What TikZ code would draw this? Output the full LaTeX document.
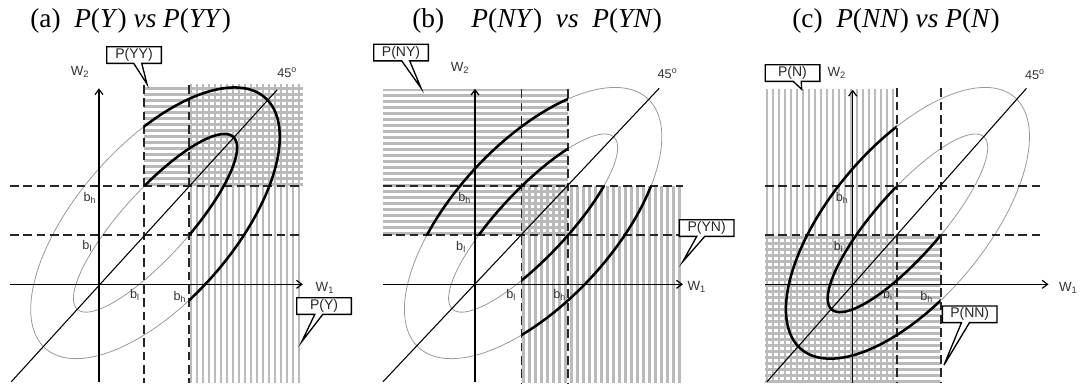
\documentclass[tikz,border=0pt]{standalone}
\usepackage{fontspec}
\setmainfont{Liberation Serif}
\newfontfamily\labfont{Liberation Sans}
\usetikzlibrary{arrows.meta,shapes.callouts}

\tikzset{
  hatchln/.style={line width=2pt, black!27},
  ellgray/.style={line width=0.6pt, black!40},
  thickc/.style={line width=1.9pt, black},
  dashln/.style={line width=1.4pt, black!85, dash pattern=on 6.5pt off 3.5pt},
  axisln/.style={line width=0.9pt, black, -{Straight Barb[length=4pt,width=6pt]}},
  diagln/.style={line width=0.8pt, black},
  lab/.style={font=\labfont\fontsize{10}{11}\selectfont, text=black!80, inner sep=0pt},
  labs/.style={font=\labfont\fontsize{9.5}{10}\selectfont, text=black!80, inner sep=0pt},
  ttl/.style={font=\fontsize{20.5}{24}\selectfont, anchor=base west, inner sep=0pt},
  callbox/.style={rectangle callout, draw, line width=1pt, fill=white,
     minimum width=41pt, minimum height=12.5pt, inner sep=0pt,
     callout pointer width=6pt, font=\labfont\fontsize{10.5}{11}\selectfont, text=black!85}
}

\newcommand{\ellD}[3]{\draw[#1] plot[smooth, domain=0:360, samples=145, variable=\t]
  ({1.25+(#2*cos(\t)-#3*sin(\t))/sqrt(2)},{1.25+(#2*cos(\t)+#3*sin(\t))/sqrt(2)});}
\newcommand{\vhatch}[4]{\begin{scope}\clip (#1,#2) rectangle (#3,#4);
  \foreach \k in {0,...,56}{\draw[hatchln] (#1,#2) ++({\k*4.5pt+1.5pt},0pt) -- ++(0,8);}\end{scope}}
\newcommand{\hhatch}[4]{\begin{scope}\clip (#1,#2) rectangle (#3,#4);
  \foreach \k in {0,...,56}{\draw[hatchln] (#1,#2) ++(0pt,{\k*4.5pt+1.5pt}) -- ++(8,0);}\end{scope}}

\begin{document}
\begin{tikzpicture}[x=0.75pt,y=-0.75pt]
\useasboundingbox (0,0) rectangle (1088,390);

% titles
\node[ttl] (ta) at (30,27) {(a)\enspace\textit{P}(\textit{Y}) \textit{vs} \textit{P}(\textit{YY})};
\node[ttl] (tb) at (412,27) {(b)\quad\textit{P}(\textit{NY})\ \ \textit{vs}\ \ \textit{P}(\textit{YN})};
\node[ttl] (tc) at (792,27) {(c)\enspace\textit{P}(\textit{NN}) \textit{vs} \textit{P}(\textit{N})};

% ---------------- panel (a)
\begin{scope}[shift={(99,284.3)},x=33.75pt,y=36.75pt]
  \hhatch{1}{2}{4.53}{4.07}
  \vhatch{2}{-2.01}{4.53}{4.07}
  \ellD{ellgray}{3.54}{1.67}
  \ellD{ellgray}{2.47}{0.714}
  \draw[dashln] (1,4.07) -- (1,-2.01);
  \draw[dashln] (2,4.07) -- (2,-2.01);
  \draw[dashln] (-1.98,1) -- (4.53,1);
  \draw[dashln] (-1.98,2) -- (4.53,2);
  \draw[diagln] (-1.95,-1.99) -- (3.96,3.97);
  \draw[axisln] (-1.98,0) -- (4.53,0);
  \draw[axisln] (0,-1.99) -- (0,4.0);
  \begin{scope}\clip (1,1) rectangle (6,6) (2,-3) rectangle (6,6); \ellD{thickc}{3.54}{1.67}\end{scope}
  \begin{scope}\clip (1,2) rectangle (6,6) (2,1) rectangle (6,6); \ellD{thickc}{2.47}{0.714}\end{scope}
  \node[lab] (w2a) at (-0.42,4.33) {W\textsubscript{2}};
  \node[lab] (w1a) at (5.02,-0.08) {W\textsubscript{1}};
  \node[labs] (dga) at (4.18,4.31) {45\textsuperscript{o}};
  \node[labs] (bha) at (-0.2,1.76) {b\textsubscript{h}};
  \node[labs] (bla) at (-0.26,0.78) {b\textsubscript{l}};
  \node[labs] (blxa) at (0.8,-0.22) {b\textsubscript{l}};
  \node[labs] (bhxa) at (1.8,-0.25) {b\textsubscript{h}};
\end{scope}

% ---------------- panel (b)
\begin{scope}[shift={(475,284.3)},x=34.875pt,y=36.75pt]
  \hhatch{-1.98}{1}{2}{3.98}
  \vhatch{1}{-2.02}{4.48}{2}
  \ellD{ellgray}{3.54}{1.67}
  \ellD{ellgray}{2.47}{0.714}
  \draw[dashln] (1,3.98) -- (1,-2.02);
  \draw[dashln] (2,3.98) -- (2,-2.02);
  \draw[dashln] (-1.98,1) -- (4.48,1);
  \draw[dashln] (-1.98,2) -- (4.48,2);
  \draw[diagln] (-1.98,-1.99) -- (3.96,4.0);
  \draw[axisln] (-1.98,0) -- (4.47,0);
  \draw[axisln] (0,-2.0) -- (0,3.99);
  \begin{scope}\clip (-3,1) rectangle (2,6) (1,-3) rectangle (6,2); \ellD{thickc}{3.54}{1.67}\ellD{thickc}{2.47}{0.714}\end{scope}
  \node[lab] (w2b) at (-0.32,4.42) {W\textsubscript{2}};
  \node[lab] (w1b) at (4.77,-0.06) {W\textsubscript{1}};
  \node[labs] (dgb) at (4.14,4.3) {45\textsuperscript{o}};
  \node[labs] (bhb) at (-0.22,1.76) {b\textsubscript{h}};
  \node[labs] (blb) at (-0.3,0.77) {b\textsubscript{l}};
  \node[labs] (blxb) at (0.78,-0.22) {b\textsubscript{l}};
  \node[labs] (bhxb) at (1.82,-0.22) {b\textsubscript{h}};
\end{scope}

% ---------------- panel (c)
\begin{scope}[shift={(852.7,284.3)},x=33pt,y=36.75pt]
  \vhatch{-1.99}{-2.02}{1}{3.98}
  \hhatch{-1.99}{-2.02}{2}{1}
  \ellD{ellgray}{3.54}{1.67}
  \ellD{ellgray}{2.47}{0.714}
  \draw[dashln] (1,4.0) -- (1,-2.02);
  \draw[dashln] (2,4.0) -- (2,-2.02);
  \draw[dashln] (-1.99,1) -- (4.3,1);
  \draw[dashln] (-1.99,2) -- (4.3,2);
  \draw[diagln] (-1.95,-1.99) -- (3.95,4.0);
  \draw[axisln] (-1.99,0) -- (4.45,0);
  \draw[axisln] (0,-2.01) -- (0,3.97);
  \begin{scope}\clip (-3,-3) rectangle (1,6) (-3,-3) rectangle (2,1); \ellD{thickc}{3.54}{1.67}\end{scope}
  \begin{scope}\clip (-3,-3) rectangle (1,2) (-3,-3) rectangle (2,1); \ellD{thickc}{2.47}{0.714}\end{scope}
  \node[lab] (w2c) at (-0.36,4.31) {W\textsubscript{2}};
  \node[lab] (w1c) at (4.9,-0.08) {W\textsubscript{1}};
  \node[labs] (dgc) at (4.14,4.27) {45\textsuperscript{o}};
  \node[labs] (bhc) at (-0.24,1.76) {b\textsubscript{h}};
  \node[labs] (blc) at (-0.32,0.77) {b\textsubscript{l}};
  \node[labs] (blxc) at (0.8,-0.22) {b\textsubscript{l}};
  \node[labs] (bhxc) at (1.68,-0.25) {b\textsubscript{h}};
\end{scope}

% ---------------- callouts
\coordinate (tYY) at (147,84);
\coordinate (tY) at (301.7,341.7);
\coordinate (tNY) at (421,88);
\coordinate (tYN) at (682.7,261.7);
\coordinate (tN) at (801.7,89.3);
\coordinate (tNN) at (944,365);
\node[callbox, callout absolute pointer={(tYY)}] (cYY) at (134,55) {P(YY)};
\node[callbox, callout absolute pointer={(tY)}] (cY) at (324,306) {P(Y)};
\node[callbox, callout absolute pointer={(tNY)}] (cNY) at (401,52.5) {P(NY)};
\node[callbox, callout absolute pointer={(tYN)}] (cYN) at (706.7,228) {P(YN)};
\node[callbox, callout absolute pointer={(tN)}] (cN) at (792.5,73) {P(N)};
\node[callbox, callout absolute pointer={(tNN)}] (cNN) at (969.7,314.3) {P(NN)};
\end{tikzpicture}
\end{document}
